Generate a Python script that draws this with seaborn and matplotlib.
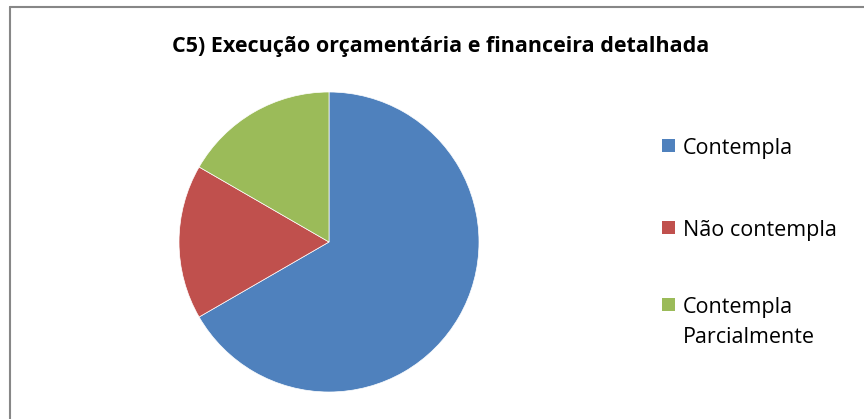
import matplotlib
matplotlib.use("Agg")
import matplotlib.pyplot as plt
import seaborn as sns
from matplotlib.patches import Rectangle
from matplotlib.lines import Line2D

sns.set_theme(style="white")
plt.rcParams['font.family'] = ['Open Sans', 'DejaVu Sans']

title = "C5) Execução orçamentária e financeira detalhada"
categories = ["Contempla", "Não contempla", "Contempla\nParcialmente"]
values = [4, 1, 1]
colors = ["#4F81BD", "#C0504D", "#9BBB59"]

W, H = 864, 419
fig = plt.figure(figsize=(W / 100, H / 100), dpi=100)

# frame border (top and left visible)
fig.add_artist(Line2D([10 / W, 1], [1 - 7 / H, 1 - 7 / H], color="#878787", lw=1.5, transform=fig.transFigure))
fig.add_artist(Line2D([10 / W, 10 / W], [0, 1 - 7 / H], color="#878787", lw=1.5, transform=fig.transFigure))

cx, cy, r = 329, 242, 150
ax = fig.add_axes([(cx - r) / W, (H - cy - r) / H, 2 * r / W, 2 * r / H])
ax.pie(values, colors=colors, startangle=90, counterclock=False,
       wedgeprops=dict(linewidth=0.5, edgecolor="white"))
ax.set_aspect("equal")
ax.set_xlim(-1, 1)
ax.set_ylim(-1, 1)
ax.axis("off")

fig.text(441 / W, 1 - 46 / H, title, ha="center", va="center",
         fontsize=15.5, fontweight="bold", color="black")

# legend
ys = [146, 228, 305]
for lab, col, y in zip(categories, colors, ys):
    fig.add_artist(Rectangle((662 / W, 1 - (y + 6) / H), 13 / W, 13 / H,
                             facecolor=col, edgecolor="none", transform=fig.transFigure))
    fig.text(683 / W, 1 - (y - 8) / H, lab, ha="left", va="top",
             fontsize=15.5, color="black", linespacing=1.55)

fig.savefig("out.png", dpi=100)
